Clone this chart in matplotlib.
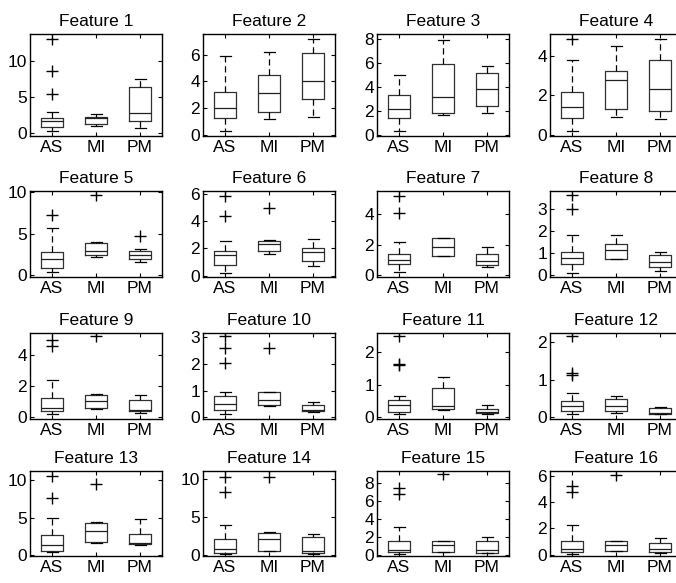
import matplotlib
matplotlib.use("Agg")
import matplotlib.pyplot as plt

plt.rcParams['font.family'] = ['Liberation Sans', 'DejaVu Sans']
plt.rcParams['font.size'] = 12.5

groups = ["AS", "MI", "PM"]
titles = [f"Feature {i}" for i in range(1, 17)]

# per feature: [AS, MI, PM]
q1 = [
    [0.80, 1.20, 1.60], [1.25, 1.70, 2.72], [1.41, 1.80, 2.40], [0.88, 1.30, 1.20],
    [0.80, 2.42, 1.98], [0.81, 1.80, 1.11], [0.72, 1.26, 0.65], [0.50, 0.75, 0.39],
    [0.43, 0.60, 0.43], [0.29, 0.45, 0.22], [0.17, 0.24, 0.13], [0.16, 0.16, 0.10],
    [0.58, 1.80, 1.48], [0.30, 0.53, 0.30], [0.27, 0.31, 0.15], [0.18, 0.31, 0.18],
]
med = [
    [1.70, 2.05, 2.70], [2.05, 3.15, 4.05], [2.15, 3.18, 3.87], [1.42, 2.75, 2.31],
    [1.98, 2.90, 2.42], [1.50, 2.35, 1.73], [1.00, 1.85, 0.93], [0.80, 1.15, 0.61],
    [0.60, 1.08, 0.50], [0.48, 0.64, 0.29], [0.37, 0.36, 0.17], [0.31, 0.30, 0.12],
    [1.35, 3.23, 1.57], [0.75, 2.07, 0.53], [0.54, 1.12, 0.54], [0.44, 0.70, 0.44],
]
q3 = [
    [2.10, 2.20, 6.40], [3.18, 4.45, 6.12], [3.37, 5.94, 5.17], [2.19, 3.25, 3.79],
    [2.82, 3.90, 2.90], [1.80, 2.59, 2.00], [1.41, 2.41, 1.41], [1.05, 1.40, 0.90],
    [1.25, 1.47, 1.10], [0.79, 0.94, 0.46], [0.54, 0.90, 0.24], [0.43, 0.48, 0.25],
    [2.69, 4.35, 2.78], [2.07, 2.95, 2.38], [1.50, 1.54, 1.50], [1.02, 1.05, 0.89],
]
whislo = [
    [0.23, 0.93, 0.60], [0.33, 1.20, 1.35], [0.36, 1.66, 1.80], [0.20, 0.89, 0.83],
    [0.36, 2.18, 1.60], [0.22, 1.56, 0.72], [0.20, 1.25, 0.54], [0.12, 0.72, 0.22],
    [0.24, 0.56, 0.28], [0.14, 0.44, 0.21], [0.11, 0.22, 0.11], [0.10, 0.12, 0.10],
    [0.40, 1.57, 1.35], [0.10, 0.52, 0.18], [0.08, 0.30, 0.15], [0.05, 0.30, 0.10],
]
whishi = [
    [2.90, 2.55, 7.50], [5.93, 6.20, 7.20], [5.00, 7.96, 5.75], [3.76, 4.50, 4.86],
    [5.65, 3.95, 3.10], [2.54, 2.60, 2.69], [2.15, 2.42, 1.85], [1.80, 1.83, 1.05],
    [2.38, 1.48, 1.47], [0.95, 0.95, 0.56], [0.65, 1.24, 0.38], [0.65, 0.56, 0.28],
    [4.95, 4.40, 4.80], [3.96, 2.97, 2.82], [3.13, 1.55, 2.00], [2.25, 1.06, 1.28],
]
fliers = [
    [[5.4, 8.65, 13.1], [], []], [[], [], []], [[], [], []], [[4.86], [], []],
    [[7.3], [9.64], [4.7]], [[4.4, 5.88], [5.0], []], [[4.04, 5.17], [], []], [[2.97, 3.64], [], []],
    [[4.6, 4.95], [5.25], []], [[2.04, 2.58, 3.01], [2.6], []], [[1.58, 1.62, 2.49], [], []], [[1.13, 1.17, 2.16], [], []],
    [[7.6, 10.5], [9.5], []], [[8.24, 10.2], [10.2], []], [[6.8, 7.5], [9.03], []], [[4.8, 5.2], [6.1], []],
]
ylims = [
    (-0.45, 13.75), (-0.08, 7.55), (-0.08, 8.42), (-0.05, 5.09),
    (-0.17, 10.15), (-0.07, 6.25), (-0.07, 5.5), (-0.045, 3.8),
    (-0.1, 5.43), (-0.06, 3.14), (-0.05, 2.57), (-0.045, 2.25),
    (-0.1, 11.2), (-0.1, 11.0), (-0.15, 9.4), (-0.1, 6.37),
]
yticks = [
    [0, 5, 10], [0, 2, 4, 6], [0, 2, 4, 6, 8], [0, 2, 4],
    [0, 5, 10], [0, 2, 4, 6], [0, 2, 4], [0, 1, 2, 3],
    [0, 2, 4], [0, 1, 2, 3], [0, 1, 2], [0, 1, 2],
    [0, 5, 10], [0, 5, 10], [0, 2, 4, 6, 8], [0, 2, 4, 6],
]

W, H = 676, 583
fig = plt.figure(figsize=(W / 100, H / 100), dpi=100)

col_left = [30, 203, 377, 550]
col_w = 132
rows = [(34, 136), (191, 276.5), (333, 419), (471, 556)]

for k in range(16):
    r, c = divmod(k, 4)
    top, bot = rows[r]
    ax = fig.add_axes([col_left[c] / W, 1 - bot / H, col_w / W, (bot - top) / H])
    stats = []
    for g in range(3):
        stats.append(dict(med=med[k][g], q1=q1[k][g], q3=q3[k][g],
                          whislo=whislo[k][g], whishi=whishi[k][g],
                          fliers=fliers[k][g], label=groups[g]))
    ax.bxp(stats, positions=[1, 2, 3], widths=0.5, capwidths=0.25,
           boxprops=dict(color='#303030', linewidth=0.9),
           medianprops=dict(color='#202020', linewidth=0.9),
           whiskerprops=dict(color='black', linewidth=0.9, linestyle=(0, (5, 3))),
           capprops=dict(color='black', linewidth=0.9),
           flierprops=dict(marker='+', markersize=8, markeredgecolor='black',
                           markeredgewidth=1.0, linestyle='none'))
    ax.set_xlim(0.5, 3.5)
    ax.set_ylim(*ylims[k])
    ax.set_yticks(yticks[k])
    ax.set_xticks([1, 2, 3])
    ax.set_xticklabels(groups)
    ax.tick_params(direction='in', top=True, right=True, length=3, width=0.8,
                   labelsize=12.5, pad=3)
    ax.tick_params(axis='y', pad=2)
    for s in ax.spines.values():
        s.set_linewidth(1.0)
    ax.set_title(titles[k], fontsize=12.5, pad=6)

fig.savefig("out.png", dpi=100)
